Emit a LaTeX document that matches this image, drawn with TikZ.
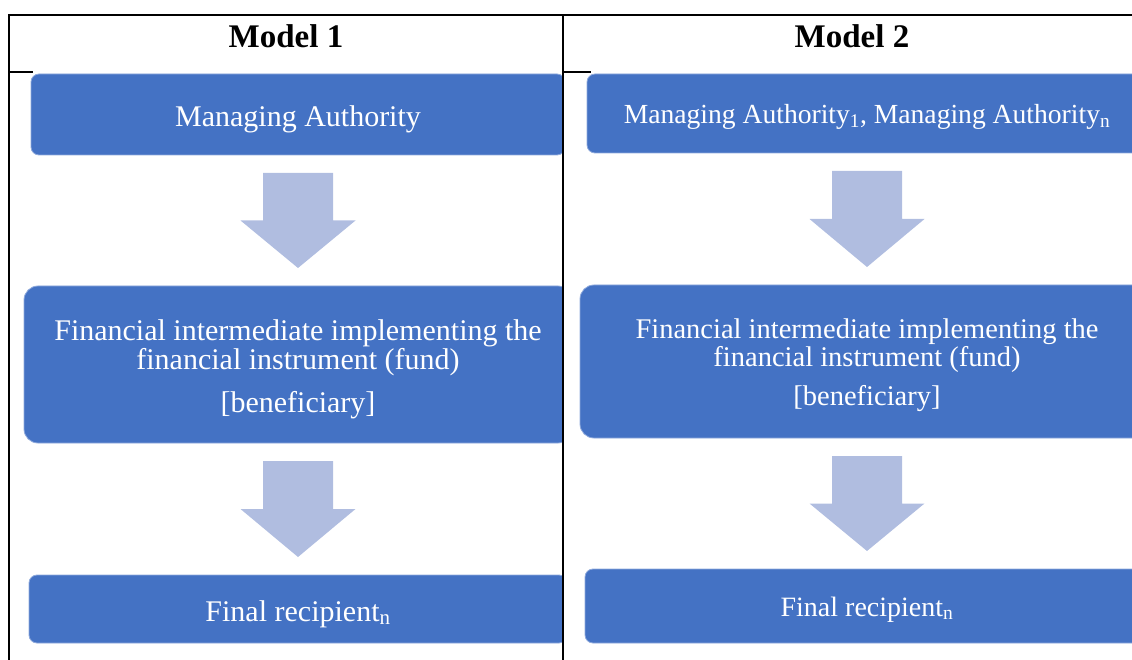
\documentclass[tikz,border=0pt]{standalone}
\usepackage{fontspec}
\setmainfont{Liberation Serif}
\usepackage{tikz}
\usetikzlibrary{calc,positioning}

\definecolor{boxblue}{RGB}{68,114,196}
\definecolor{boxedge}{RGB}{143,170,220}
\definecolor{flowblue}{RGB}{176,189,224}

% block arrow between two stacked boxes
\newcommand{\flowarrow}[2]{%
  \fill[flow] ($(#1.south)+(-35,18)$) -- ($(#1.south)+(35,18)$)
    -- ($(#1.south)!.5!(#2.north)+(35,0)$) -- ($(#1.south)!.5!(#2.north)+(57.5,0)$)
    -- ($(#2.north)+(0,-18)$)
    -- ($(#1.south)!.5!(#2.north)+(-57.5,0)$) -- ($(#1.south)!.5!(#2.north)+(-35,0)$)
    -- cycle;}

\begin{document}
\begin{tikzpicture}[
    x=1pt, y=-1pt,
    rule/.style={draw=black, line width=1.9pt},
    title/.style={
        font=\bfseries\fontsize{33}{36}\selectfont,
        inner sep=0pt
        },
    box/.style={
        rectangle,
        fill=boxblue,
        draw=boxedge,
        line width=0.8pt,
        inner sep=0pt,
        outer sep=0pt
        },
    boxtext/.style={
        text=white,
        align=center,
        inner sep=0pt
        },
    textone/.style={boxtext, yshift=-5pt, font=\fontsize{30}{29}\selectfont},
    texttwo/.style={boxtext, yshift=-3.5pt},
    smallbox/.style={rounded corners=8pt},
    largebox/.style={rounded corners=14pt},
    flow/.style={fill=flowblue}
  ]
  \useasboundingbox (0,0) rectangle (1132,660);

  % Model 1
  \begin{scope}
    \clip (0,0) rectangle (562,660);
    \node[box, smallbox, minimum width=534pt, minimum height=81pt] (ma1) at (298,114.5) {};
    \node[box, largebox, minimum width=548pt, minimum height=157pt] (fi1) at (298,364.5) {};
    \node[box, smallbox, minimum width=538pt, minimum height=68pt] (fr1) at (298,609) {};
    \flowarrow{ma1}{fi1}
    \flowarrow{fi1}{fr1}
  \end{scope}
  \node[textone] (ma1text) at (ma1) {Managing Authority};
  \node[textone] (fi1text) at (fi1)
    {Financial intermediate implementing the\\
     financial instrument (fund)\\[14pt]
     [beneficiary]};
  \node[textone] (fr1text) at (fr1) {Final recipient\textsubscript{n}};

  % Model 2
  \node[box, smallbox, minimum width=560pt, minimum height=79pt] (ma2) at (867,113.5) {};
  \node[box, largebox, minimum width=574pt, minimum height=153pt] (fi2) at (867,361.5) {};
  \node[box, smallbox, minimum width=564pt, minimum height=74pt] (fr2) at (867,606) {};
  \flowarrow{ma2}{fi2}
  \flowarrow{fi2}{fr2}
  \node[texttwo, font=\fontsize{27.6}{27}\selectfont] (ma2text) at (ma2)
    {Managing Authority\textsubscript{1}, Managing Authority\textsubscript{n}};
  \node[texttwo, font=\fontsize{28.5}{28}\selectfont] (fi2text) at (fi2)
    {Financial intermediate implementing the\\
     financial instrument (fund)\\[11pt]
     [beneficiary]};
  \node[texttwo, font=\fontsize{28}{28}\selectfont] (fr2text) at (fr2)
    {Final recipient\textsubscript{n}};

  % Headings
  \node[title] (head1) at (286,36) {Model 1};
  \node[title] (head2) at (852,36) {Model 2};

  % Table rules
  \draw[rule] (8,15) -- (1132,15);
  \draw[rule] (9,15) -- (9,660);
  \draw[rule] (563,15) -- (563,660);
  \draw[rule] (9,72) -- (33,72);
  \draw[rule] (563,72) -- (591,72);
\end{tikzpicture}
\end{document}
